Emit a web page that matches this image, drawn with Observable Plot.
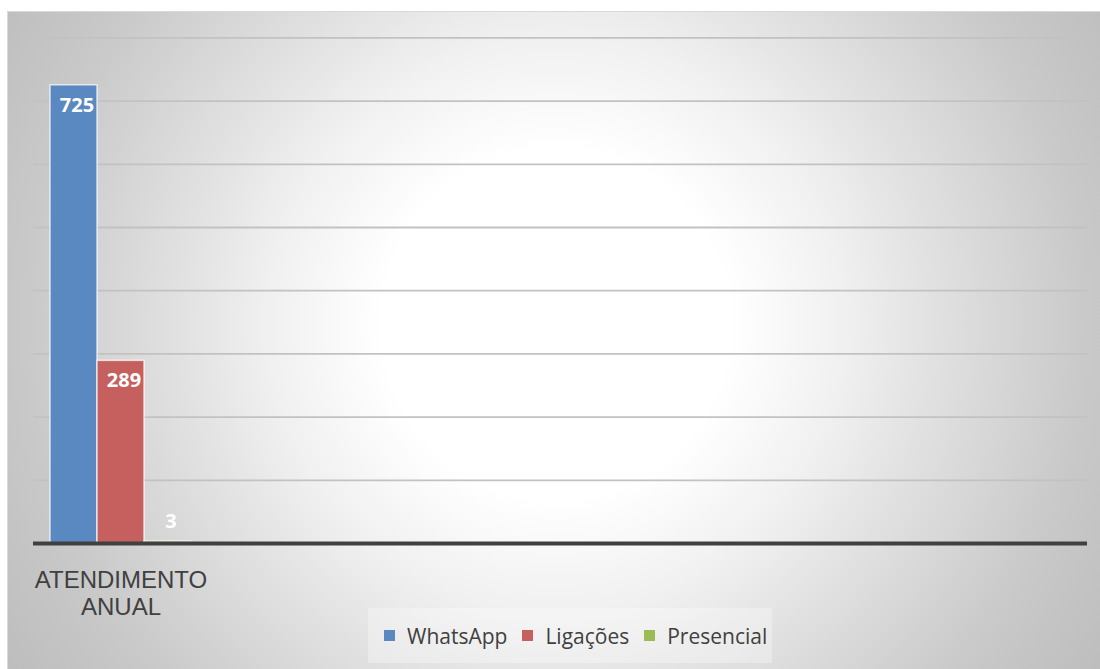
<!DOCTYPE html>
<html>
<head>
<meta charset="utf-8">
<script src="https://cdn.jsdelivr.net/npm/d3@7"></script>
<script src="https://cdn.jsdelivr.net/npm/@observablehq/plot@0.6"></script>
<style>
  body { margin: 0; background: #ffffff; }
  #chart { position: relative; width: 1100px; height: 669px; overflow: hidden; background: #fff; }
  #panel { position: absolute; left: 7px; top: 11px; width: 1093px; height: 658px; box-sizing: border-box;
    border-top: 1px solid #d9d9d9; border-left: 1px solid #d9d9d9;
    background: radial-gradient(circle 660px at 548px 312px, #ffffff 0px, #ffffff 175px, #f0f0f0 290px, #e4e4e4 360px, #c9c9c9 530px, #bcbcbc 660px); }
  .layer { position: absolute; left: 0; top: 0; }
  #legend { position: absolute; left: 368px; top: 608px; width: 404px; height: 55px; box-sizing: border-box;
    padding-left: 16px; background: rgba(255,255,255,0.3); display: flex; align-items: center; justify-content: flex-start; }
  #legend > div { margin: 0 !important; min-height: 0 !important; }
  .lg-swatch { margin-right: 15px !important; }
  .lg-swatch:last-child { margin-right: 0 !important; }
  .lg-swatch > svg { margin-right: 12px !important; }
</style>
</head>
<body>
<div id="chart">
  <div id="panel"></div>
  <div id="grid" class="layer"></div>
  <div id="bars" class="layer"></div>
  <div id="axis" class="layer"></div>
  <div id="legend"></div>
</div>
<script>
const categories = ["ATENDIMENTO ANUAL"];
const series = ["WhatsApp", "Ligações", "Presencial"];
const values = [725, 289, 3];
const colors = ["#5a88c0", "#c5605e", "#9bbb59"];
const yTicks = [100, 200, 300, 400, 500, 600, 700, 800];

const data = series.map((s, i) => ({ category: categories[0], series: s, value: values[i] }));

const W = 1100, H = 669;
const common = {
  width: W, height: H,
  marginTop: 37.4, marginBottom: 126, marginLeft: 33, marginRight: 13,
  y: { domain: [0, 800], axis: null },
  style: { background: "transparent", overflow: "visible" }
};

const grid = Plot.plot({
  ...common,
  marks: [
    Plot.ruleY(yTicks, { stroke: "#c2c2c2", strokeWidth: 1.8 })
  ]
});
document.getElementById("grid").appendChild(grid);

const labelStyle = { fill: "white", fontWeight: "bold", fontSize: 20, fontFamily: "Open Sans", dx: 3 };
const bars = Plot.plot({
  ...common,
  fx: { domain: categories, range: [33, 208.7], padding: 0 },
  x: { domain: series, paddingInner: 0, paddingOuter: 0.33, axis: null },
  color: { domain: series, range: colors },
  marks: [
    Plot.barY(data, { fx: "category", x: "series", y: "value", fill: "series",
      stroke: "#ffffff", strokeOpacity: 0.7, strokeWidth: 1.5 }),
    Plot.text(data.filter(d => d.value >= 50), { fx: "category", x: "series", y: "value",
      text: d => String(d.value), dy: 20, ...labelStyle }),
    Plot.text(data.filter(d => d.value < 50), { fx: "category", x: "series", y: "value",
      text: d => String(d.value), dy: -20, ...labelStyle }),
    Plot.axisFx({ anchor: "bottom", tickSize: 0, tickPadding: 25, label: null,
      fontSize: 24, fontFamily: "Liberation Sans", color: "#404040", lineHeight: 1.13,
      tickFormat: d => d.replace(" ", "\n") })
  ]
});
document.getElementById("bars").appendChild(bars);

const axis = Plot.plot({
  ...common,
  marks: [
    Plot.ruleY([0], { stroke: "#404040", strokeWidth: 4 })
  ]
});
document.getElementById("axis").appendChild(axis);

const legend = Plot.legend({
  color: { domain: series, range: colors },
  legend: "swatches",
  swatchSize: 11,
  className: "lg",
  style: { fontFamily: "Open Sans", fontSize: "21px", color: "#404040" }
});
document.getElementById("legend").appendChild(legend);
</script>
</body>
</html>
